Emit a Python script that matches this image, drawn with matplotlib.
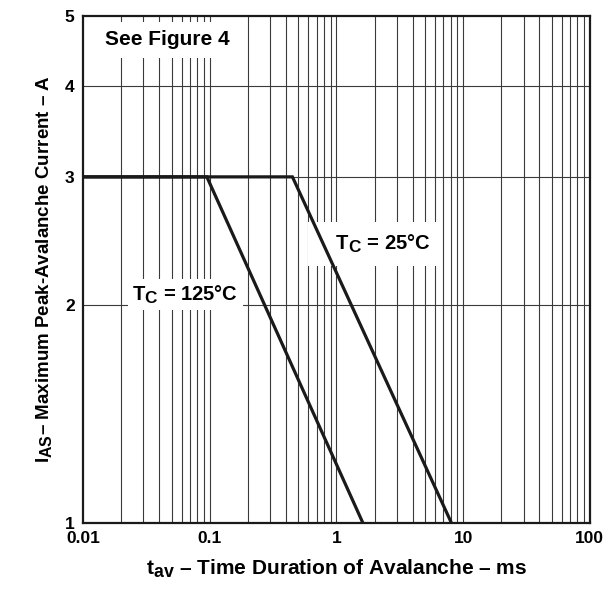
import matplotlib
matplotlib.use("Agg")
import matplotlib.pyplot as plt
import matplotlib._mathtext as _mt
from matplotlib.ticker import FixedLocator, NullFormatter, NullLocator

# subscripts in the datasheet are nearly full size
_mt.SHRINK_FACTOR = 0.85

plt.rcParams['font.family'] = ['Liberation Sans', 'DejaVu Sans']
plt.rcParams['font.weight'] = 'bold'
plt.rcParams['mathtext.fontset'] = 'custom'
plt.rcParams['mathtext.rm'] = 'Liberation Sans:bold'
plt.rcParams['mathtext.it'] = 'Liberation Sans:bold'
plt.rcParams['mathtext.bf'] = 'Liberation Sans:bold'

# curve data: flat at 3 A, then falling to 1 A
temps = ['125', '25']
t_start = 0.01
t_knee = [0.095, 0.45]
t_end = [1.62, 8.1]
i_flat = 3.0
i_end = 1.0

x_ticks = [0.01, 0.1, 1, 10, 100]
x_ticklabels = ['0.01', '0.1', '1', '10', '100']
y_ticks = [1, 2, 3, 4, 5]

fig = plt.figure(figsize=(6.08, 5.89), dpi=100)
ax = fig.add_axes([0.1365, 0.112, 0.8335, 0.861])
ax.set_xscale('log')
ax.set_yscale('log')
ax.set_xlim(0.01, 100)
ax.set_ylim(1, 5)

# grid: every 1..9 per decade vertically, 1..5 horizontally
vlines = [m * 10.0 ** e for e in range(-2, 2) for m in range(1, 10)]
for v in vlines[1:]:
    ax.axvline(v, color='#3a3a3a', lw=0.8, zorder=1)
for h in y_ticks[1:-1]:
    ax.axhline(h, color='#3a3a3a', lw=0.8, zorder=1)

for tk, te in zip(t_knee, t_end):
    ax.plot([t_start, tk, te], [i_flat, i_flat, i_end], color='#1a1a1a',
            lw=2.3, zorder=5, solid_joinstyle='miter')

ax.xaxis.set_major_locator(FixedLocator(x_ticks))
ax.set_xticklabels(x_ticklabels)
ax.xaxis.set_minor_locator(NullLocator())
ax.xaxis.set_minor_formatter(NullFormatter())
ax.yaxis.set_major_locator(FixedLocator(y_ticks))
ax.set_yticklabels([str(v) for v in y_ticks])
ax.yaxis.set_minor_locator(NullLocator())
ax.yaxis.set_minor_formatter(NullFormatter())
ax.tick_params(length=0, labelsize=12.5, pad=6)
for lab in ax.get_xticklabels() + ax.get_yticklabels():
    lab.set_fontweight('bold')

for s in ax.spines.values():
    s.set_linewidth(1.6)
    s.set_color('#1a1a1a')

ax.text(0.166, 0.953, 'See Figure 4', transform=ax.transAxes, ha='center',
        va='center', fontsize=15, fontweight='bold',
        bbox=dict(facecolor='white', edgecolor='none', pad=6), zorder=3)
ax.text(0.202, 0.450, r'T$_\mathrm{C}$ = ' + temps[0] + '°C', transform=ax.transAxes,
        ha='center', va='center', fontsize=14.5, fontweight='bold',
        bbox=dict(facecolor='white', edgecolor='none', pad=3), zorder=3)
ax.text(0.575, 0.550, r'   T$_\mathrm{C}$ = ' + temps[1] + '°C', transform=ax.transAxes,
        ha='center', va='center', fontsize=14.5, fontweight='bold',
        bbox=dict(facecolor='white', edgecolor='none', pad=8), zorder=3)

ax.set_xlabel(r't$_\mathrm{av}$ – Time Duration of Avalanche – ms', fontsize=15,
              fontweight='bold', labelpad=8)
ax.set_ylabel(r'I$_\mathrm{AS}$– Maximum Peak-Avalanche Current – A', fontsize=13.5,
              fontweight='bold', labelpad=8)

fig.savefig('out.png', dpi=100)
